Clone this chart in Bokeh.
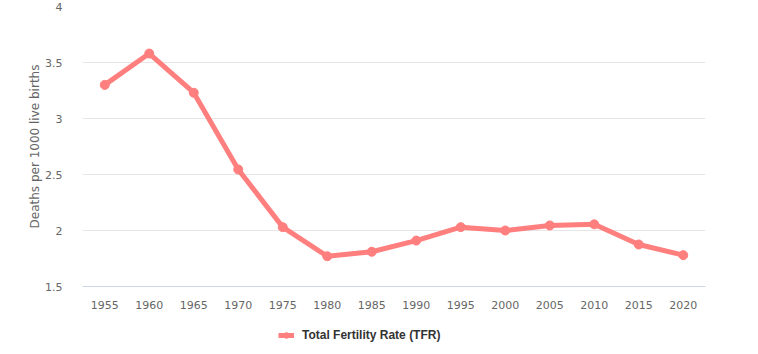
from bokeh.plotting import figure
from bokeh.models import Legend, LegendItem, FixedTicker, Range1d
from bokeh.layouts import column
from bokeh.embed import file_html
from bokeh.resources import INLINE

years = ["1955", "1960", "1965", "1970", "1975", "1980", "1985", "1990",
         "1995", "2000", "2005", "2010", "2015", "2020"]
tfr = [3.30, 3.58, 3.23, 2.545, 2.03, 1.77, 1.81, 1.91, 2.03, 2.00, 2.045, 2.055, 1.875, 1.78]
series_name = "Total Fertility Rate (TFR)"
y_title = "Deaths per 1000 live births"
y_ticks = [1.5, 2, 2.5, 3, 3.5, 4]

FONT = "DejaVu Sans"
LEGEND_FONT = "Liberation Sans"
COLOR = "#ff7f7f"

p = figure(width=758, height=316, x_range=years, y_range=Range1d(1.5, 4),
           output_backend="svg", toolbar_location=None,
           min_border_left=82, min_border_right=53, min_border_top=6, min_border_bottom=30)
p.outline_line_color = None
p.background_fill_color = "white"
p.border_fill_color = "white"

p.line(years, tfr, line_color=COLOR, line_width=5)
p.scatter(years, tfr, size=9, fill_color=COLOR, line_color=COLOR)

p.yaxis.ticker = FixedTicker(ticks=y_ticks)
p.yaxis.major_label_overrides = {1.5: "1.5", 2: "2", 2.5: "2.5", 3: "3", 3.5: "3.5", 4: "4"}
p.yaxis.axis_line_color = None
p.yaxis.major_tick_line_color = None
p.yaxis.minor_tick_line_color = None
p.yaxis.major_label_text_color = "#666666"
p.yaxis.major_label_text_font = FONT
p.yaxis.major_label_text_font_size = "11px"
p.yaxis.major_label_standoff = 14
p.yaxis.axis_label = y_title
p.yaxis.axis_label_text_font = FONT
p.yaxis.axis_label_text_font_size = "12px"
p.yaxis.axis_label_text_font_style = "normal"
p.yaxis.axis_label_text_color = "#666666"
p.yaxis.axis_label_standoff = 0

p.xaxis.axis_line_color = "#ccd6eb"
p.xaxis.major_tick_line_color = None
p.xaxis.minor_tick_line_color = None
p.xaxis.major_label_text_color = "#666666"
p.xaxis.major_label_text_font = FONT
p.xaxis.major_label_text_font_size = "11px"
p.xaxis.major_label_standoff = 8

p.xgrid.grid_line_color = None
p.ygrid.grid_line_color = "#e6e6e6"
p.ygrid.grid_line_width = 1

# legend strip below the chart (its proxy glyphs sit outside the visible range)
lp = figure(width=758, height=38, output_backend="svg", toolbar_location=None,
            min_border=0, x_axis_type=None, y_axis_type=None,
            x_range=Range1d(0, 1), y_range=Range1d(0, 1))
lp.outline_line_color = None
lp.xgrid.visible = False
lp.ygrid.visible = False
lr_line = lp.line([-10, -9], [-10, -9], line_color=COLOR, line_width=5)
lr_pts = lp.scatter([-10], [-10], size=9, fill_color=COLOR, line_color=COLOR)
legend = Legend(items=[LegendItem(label=series_name, renderers=[lr_line, lr_pts])],
                location=(196, 12), orientation="horizontal",
                label_text_font=LEGEND_FONT, label_text_font_size="12px",
                label_text_font_style="bold", label_text_color="#333333",
                border_line_color=None, background_fill_alpha=0,
                glyph_width=16, glyph_height=14, label_standoff=8, margin=0, padding=2)
lp.add_layout(legend, "center")

layout = column(p, lp, spacing=0)
open("out.html", "w").write(file_html(layout, INLINE))
